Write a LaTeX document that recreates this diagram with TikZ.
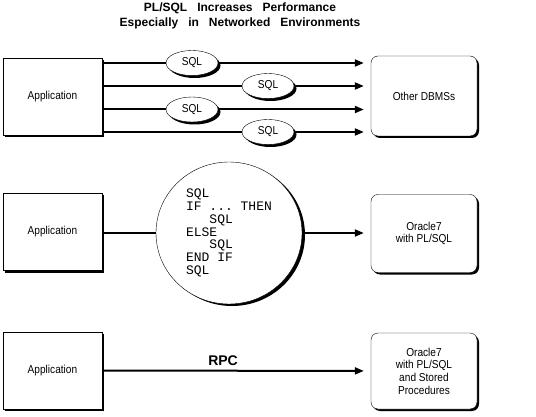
\documentclass[tikz,border=0pt]{standalone}
\usepackage{fontspec}
\setmainfont{Liberation Sans}
\setmonofont{Liberation Mono}
\newfontfamily\narrowsf[FakeStretch=0.88]{Liberation Sans}
\newcommand\titlefont{\bfseries\fontsize{12}{15}\selectfont\spaceskip 10pt\relax}
\usetikzlibrary{shapes,positioning,calc,shadows,arrows.meta,backgrounds}

\begin{document}
\begin{tikzpicture}
[x=1pt,y=-1pt,
    shade/.style={drop shadow={shadow xshift=2pt,shadow yshift=-2pt,opacity=1,fill=black}},
    box/.style={draw,thin,fill=white,shade,minimum width=99pt,minimum height=77pt,
    align=center,font=\narrowsf\fontsize{11.5}{12.7}\selectfont},
    db/.style={box,rounded corners=7pt,minimum width=106pt,minimum height=78pt},
    sql/.style={draw,thin,fill=white,shape=ellipse,inner sep=0,
    minimum width=52pt,minimum height=25pt,font=\narrowsf\fontsize{11.5}{12.7}\selectfont,
    drop shadow={shadow xshift=2.5pt,shadow yshift=-2.5pt,opacity=1,fill=black}},
    codeblob/.style={draw,thin,fill=white,shape=ellipse,inner sep=0,align=left,
    minimum width=146pt,minimum height=142pt,font=\ttfamily\fontsize{13}{12.75}\selectfont,
    drop shadow={shadow xshift=3pt,shadow yshift=-2pt,opacity=1,fill=black}},
    myedge/.style={line width=2pt,-{Triangle[length=9pt,width=7pt]},shorten >=7pt}]
\useasboundingbox (0,0) rectangle (536,417);
%%%%%%%%%%
%% title
\node (title) at (240,16) [align=center,font=\titlefont]
{PL/SQL Increases Performance\\Especially in Networked Environments};
%% plain SQL
\node (app1) [box] at (52.5,96.5) {Application};
\node (dbms) [db,minimum height=80pt] at (424,96) {Other DBMSs};
\node (sql1) [sql] at (192,63) {SQL};
\node (sql2) [sql] at (268,86) {SQL};
\node (sql3) [sql] at (192,109.5) {SQL};
\node (sql4) [sql] at (268,132) {SQL};
%% PL/SQL block
\node (app2) [box] at (52.5,232) {Application};
\node (code) [codeblob] at (229,233) {SQL\\IF ... THEN\\\ \ \ SQL\\ELSE\\\ \ \ SQL\\END IF\\SQL};
\node (ora2) [db] at (424,233.5) {Oracle7\\with PL/SQL};
%% stored procedures
\node (app3) [box] at (52.5,370.5) {Application};
\node (ora3) [db,minimum height=76pt] at (424,371) {Oracle7\\with PL/SQL\\and Stored\\Procedures};
%% edges
\begin{scope}[on background layer]
\draw[myedge] (sql1 -| app1.east) -- (sql1 -| dbms.west);
\draw[myedge] (sql2 -| app1.east) -- (sql2 -| dbms.west);
\draw[myedge] (sql3 -| app1.east) -- (sql3 -| dbms.west);
\draw[myedge] (sql4 -| app1.east) -- (sql4 -| dbms.west);
\end{scope}
\draw[line width=2pt] (code.west -| app2.east) -- (code.west);
\draw[myedge] (code.east) -- (code.east -| ora2.west);
\draw[myedge] (app3) -- (ora3)
node (rpc) [pos=.45,above=4pt,inner sep=0,font=\bfseries\fontsize{14}{14}\selectfont] {RPC};
%%
\end{tikzpicture}
\end{document}
